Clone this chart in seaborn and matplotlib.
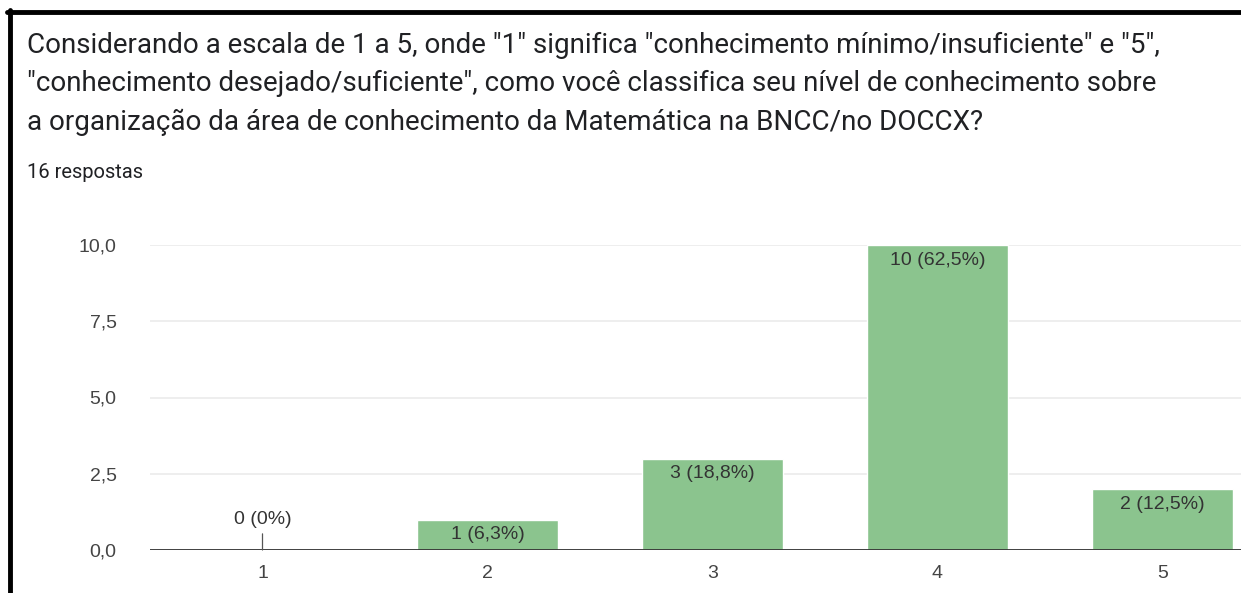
import matplotlib
matplotlib.use("Agg")
import matplotlib.pyplot as plt
import seaborn as sns
import pandas as pd
from matplotlib.lines import Line2D

# data
categories = ["1", "2", "3", "4", "5"]
counts = [0, 1, 3, 10, 2]
percent_labels = ["0%", "6,3%", "18,8%", "62,5%", "12,5%"]
yticks = [0.0, 2.5, 5.0, 7.5, 10.0]
ytick_labels = ["0,0", "2,5", "5,0", "7,5", "10,0"]

title_lines = [
    'Considerando a escala de 1 a 5, onde "1" significa "conhecimento mínimo/insuficiente" e "5",',
    '"conhecimento desejado/suficiente", como você classifica seu nível de conhecimento sobre',
    'a organização da área de conhecimento da Matemática na BNCC/no DOCCX?',
]
subtitle = "16 respostas"

df = pd.DataFrame({"nivel": categories, "respostas": counts})

sns.set_style("white")
plt.rcParams["font.family"] = ["Liberation Sans", "DejaVu Sans"]

fig = plt.figure(figsize=(12.41, 5.93), dpi=100)
W, H = 1241, 593
# axes placed in pixel terms; right side runs off the figure like the screenshot
ax = fig.add_axes([150 / W, 43 / H, 1125 / W, 305 / H])

sns.barplot(data=df, x="nivel", y="respostas", color="#8bc48e", saturation=1,
            width=0.625, ax=ax, zorder=3)

ax.set_ylim(0, 10)
ax.set_xlim(-0.5, 4.5)
ax.set_yticks(yticks)
ax.set_yticklabels(ytick_labels)
ax.yaxis.grid(True, color="#ebebeb", linewidth=1.2, zorder=0)
ax.axhline(0, color="#333333", linewidth=1.3, zorder=4)
for s in ax.spines.values():
    s.set_visible(False)
ax.tick_params(axis="both", length=0, labelsize=14, labelcolor="#444444")
ax.tick_params(axis="y", pad=24)
ax.tick_params(axis="x", pad=11)
ax.set_xlabel("")
ax.set_ylabel("")

for i, (c, p) in enumerate(zip(counts, percent_labels)):
    txt = f"{c} ({p})"
    if c == 0:
        ax.annotate(txt, xy=(i, 0), xytext=(0, 16), textcoords="offset points",
                    ha="center", va="bottom", fontsize=14, color="#333333",
                    arrowprops=dict(arrowstyle="-", color="#555555", lw=0.9,
                                    shrinkA=2, shrinkB=0), zorder=5)
    else:
        ax.annotate(txt, xy=(i, c), xytext=(0, -5), textcoords="offset points",
                    ha="center", va="top", fontsize=14, color="#333333", zorder=5)

# header text
for k, line in enumerate(title_lines):
    fig.text(27 / W, 1 - (45 + 38.5 * k) / H, line, fontsize=20, color="#202124",
             family=["Roboto", "DejaVu Sans"], ha="left", va="center")
fig.text(27 / W, 1 - 172 / H, subtitle, fontsize=14.5, color="#202124",
         family=["Roboto", "DejaVu Sans"], ha="left", va="center")

# black frame lines at top and left of the screenshot
fig.add_artist(Line2D([7 / W, 1], [1 - 12 / H, 1 - 12 / H], color="black", linewidth=3.5,
                      transform=fig.transFigure))
fig.add_artist(Line2D([9.5 / W, 9.5 / W], [1 - 10 / H, 0], color="black", linewidth=3.5,
                      transform=fig.transFigure))

fig.savefig("out.png", dpi=100)
